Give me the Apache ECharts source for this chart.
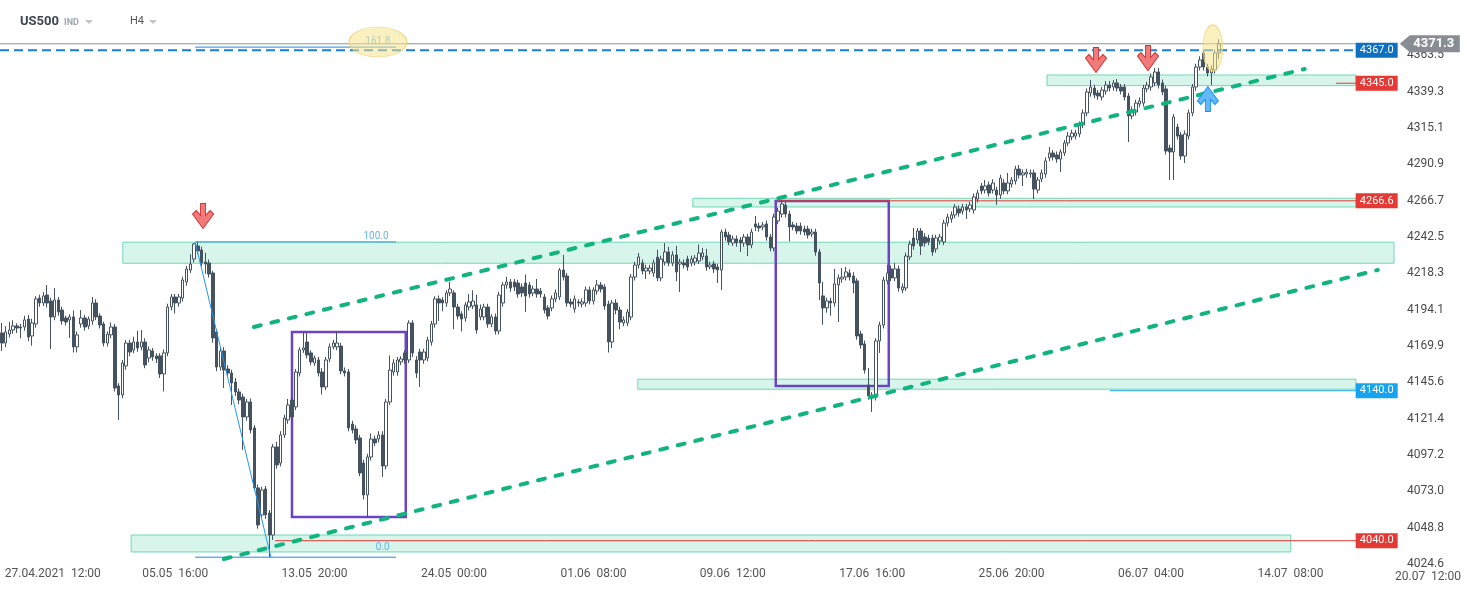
<!DOCTYPE html>
<html>
<head>
<meta charset="utf-8">
<script src="https://cdn.jsdelivr.net/npm/echarts@6/dist/echarts.min.js"></script>
<style>
  html, body { margin: 0; height: 100%; background: #fff; }
  #chart { width: 1467px; height: 590px; }
</style>
</head>
<body>
<div id="chart"></div>
<script>
// trading days and H4 bar hours (31.05 and 05.07 are short sessions)
const tradeDays = ['26.04','27.04','28.04','29.04','30.04','03.05','04.05','05.05','06.05','07.05',
  '10.05','11.05','12.05','13.05','14.05','17.05','18.05','19.05','20.05','21.05',
  '24.05','25.05','26.05','27.05','28.05','31.05','01.06','02.06','03.06','04.06',
  '07.06','08.06','09.06','10.06','11.06','14.06','15.06','16.06','17.06','18.06',
  '21.06','22.06','23.06','24.06','25.06','28.06','29.06','30.06','01.07','02.07',
  '05.07','06.07','07.07','08.07','09.07','12.07','13.07','14.07','15.07','16.07','19.07','20.07'];
const barHours = ['00:00','04:00','08:00','12:00','16:00','20:00'];
const shortDays = ['31.05','05.07'];
const xTicks = ['27.04  12:00','05.05  16:00','13.05  20:00','24.05  00:00','01.06  08:00',
  '09.06  12:00','17.06  16:00','25.06  20:00','06.07  04:00','14.07  08:00'];
const yTicks = [4024.6,4048.8,4073.0,4097.2,4121.4,4145.6,4169.9,4194.1,4218.3,4242.5,4266.7,4290.9,4315.1,4339.3,4363.5];

// [open, close, low, high]
const ohlc = [
[4178.5,4171.8,4166.5,4185.2],[4171.8,4179.2,4169.0,4183.0],[4177.8,4180.5,4175.5,4186.0],[4180.5,4183.2,4178.0,4187.0],
[4183.2,4181.8,4178.5,4185.0],[4182.5,4181.8,4175.0,4184.5],[4182.5,4187.2,4180.0,4190.0],[4187.8,4175.8,4173.0,4190.5],
[4176.5,4185.2,4170.0,4188.0],[4184.5,4201.2,4182.0,4203.0],[4201.8,4198.5,4196.0,4204.0],[4198.5,4203.2,4196.5,4205.8],
[4203.8,4198.5,4195.5,4210.5],[4199.8,4189.2,4167.8,4202.0],[4189.2,4200.5,4187.0,4208.5],[4200.5,4192.5,4190.0,4202.5],
[4193.8,4186.5,4184.0,4196.0],[4188.5,4185.8,4183.5,4190.0],[4187.2,4189.2,4175.2,4191.0],[4189.2,4169.2,4165.5,4193.5],
[4169.2,4177.2,4165.5,4179.5],[4184.5,4188.5,4182.0,4193.8],[4188.5,4182.5,4180.0,4190.5],[4183.2,4187.8,4181.0,4189.5],
[4186.5,4198.5,4184.0,4202.5],[4198.5,4189.2,4187.0,4201.0],[4189.8,4183.8,4181.5,4191.5],[4184.5,4171.8,4169.5,4186.0],
[4171.8,4177.8,4169.5,4179.5],[4177.2,4182.5,4175.0,4185.5],[4182.5,4141.8,4139.5,4184.5],[4143.2,4137.2,4120.5,4145.0],
[4137.2,4158.5,4135.0,4160.5],[4156.5,4171.8,4154.0,4173.8],[4171.8,4165.8,4163.0,4174.0],[4167.2,4172.5,4165.0,4176.0],
[4172.5,4168.5,4166.0,4180.0],[4169.2,4172.5,4167.0,4180.5],[4172.5,4157.2,4155.0,4175.0],[4161.8,4167.2,4159.0,4169.5],
[4166.5,4162.5,4160.0,4168.5],[4163.2,4161.2,4158.5,4165.0],[4163.2,4151.2,4148.5,4165.0],[4151.2,4165.2,4139.5,4167.5],
[4165.2,4195.8,4163.0,4198.0],[4195.8,4202.5,4193.5,4204.5],[4202.5,4198.5,4191.5,4204.5],[4198.5,4202.5,4196.0,4204.5],
[4201.8,4213.8,4199.5,4216.0],[4212.5,4221.2,4210.0,4223.2],[4220.5,4224.5,4218.5,4231.0],[4227.8,4237.8,4225.5,4238.5],
[4236.5,4233.2,4231.0,4239.5],[4233.8,4225.2,4223.0,4236.0],[4225.8,4224.5,4218.0,4232.0],[4225.2,4217.8,4215.5,4227.5],
[4218.5,4175.2,4172.0,4220.0],[4179.2,4155.8,4153.0,4181.0],[4155.8,4166.5,4153.5,4168.5],[4166.5,4153.8,4141.8,4169.0],
[4154.5,4151.8,4149.0,4157.0],[4151.8,4145.2,4130.5,4154.0],[4145.8,4139.2,4136.5,4148.5],[4139.2,4133.8,4131.0,4141.5],
[4135.8,4122.5,4100.5,4138.0],[4122.5,4132.5,4120.0,4134.5],[4132.5,4113.8,4111.5,4134.8],[4115.2,4075.2,4073.0,4117.0],
[4075.2,4050.5,4048.0,4077.5],[4057.2,4073.8,4055.0,4076.0],[4074.5,4057.2,4054.5,4076.5],[4058.5,4043.8,4029.2,4060.5],
[4043.8,4102.5,4040.5,4104.5],[4102.5,4090.5,4088.0,4106.0],[4091.8,4110.5,4089.5,4113.0],[4110.5,4121.8,4108.5,4124.0],
[4120.5,4130.5,4118.0,4134.5],[4133.8,4122.5,4120.0,4136.0],[4129.2,4152.5,4127.0,4154.5],[4151.8,4167.2,4149.5,4169.0],
[4167.2,4168.5,4165.2,4178.5],[4172.5,4163.8,4161.5,4178.5],[4165.2,4159.2,4157.0,4167.0],[4158.5,4161.8,4156.5,4163.5],
[4160.5,4151.8,4149.5,4162.5],[4152.5,4142.5,4137.5,4155.0],[4142.5,4160.5,4140.5,4162.5],[4161.2,4169.2,4159.0,4171.5],
[4169.2,4171.8,4167.5,4174.0],[4169.2,4171.8,4167.0,4179.2],[4169.8,4153.2,4151.0,4172.0],[4153.2,4151.8,4149.5,4155.5],
[4152.5,4115.2,4113.0,4154.5],[4117.8,4113.8,4111.5,4120.0],[4114.5,4107.2,4104.5,4117.0],[4108.5,4085.2,4083.0,4110.5],
[4091.8,4070.5,4067.5,4094.0],[4070.5,4095.8,4055.2,4098.0],[4095.8,4107.8,4093.5,4111.5],[4107.8,4105.2,4103.0,4110.0],
[4107.8,4110.5,4105.5,4113.0],[4110.5,4089.8,4082.5,4113.0],[4089.8,4132.5,4087.5,4134.5],[4132.5,4153.8,4130.5,4163.5],
[4152.5,4158.5,4150.0,4161.0],[4152.5,4160.5,4150.0,4162.5],[4159.2,4161.2,4157.0,4163.0],[4165.2,4160.5,4158.0,4167.0],
[4160.5,4185.2,4158.5,4187.0],[4185.2,4165.2,4162.5,4187.0],[4160.5,4151.8,4148.5,4163.0],[4165.8,4160.5,4142.5,4168.0],
[4160.5,4165.8,4158.0,4168.0],[4161.8,4173.8,4159.5,4176.0],[4172.5,4184.5,4170.0,4186.5],[4184.5,4201.2,4182.0,4203.0],
[4201.2,4198.5,4186.5,4203.5],[4200.5,4198.5,4193.0,4202.5],[4198.5,4205.2,4196.0,4207.0],[4205.2,4207.8,4203.0,4212.5],
[4205.2,4195.8,4181.0,4207.0],[4195.8,4189.8,4187.5,4198.0],[4191.2,4187.8,4179.5,4193.0],[4188.5,4197.2,4186.0,4199.0],
[4195.8,4199.2,4193.5,4204.5],[4196.5,4199.8,4194.5,4207.0],[4197.2,4180.5,4178.0,4204.0],[4189.2,4194.5,4187.0,4197.5],
[4189.2,4195.8,4187.0,4198.0],[4195.8,4184.5,4182.0,4198.0],[4184.5,4189.2,4182.5,4191.0],[4189.2,4179.8,4177.5,4191.5],
[4179.8,4203.8,4177.5,4206.0],[4198.5,4210.5,4196.0,4212.5],[4210.5,4212.5,4208.0,4216.0],[4212.5,4208.5,4206.0,4214.5],
[4212.5,4209.2,4206.5,4214.5],[4211.8,4204.5,4202.0,4214.0],[4209.2,4205.2,4202.5,4211.5],[4211.8,4203.2,4192.5,4217.5],
[4210.5,4204.5,4202.0,4212.5],[4205.2,4207.8,4203.0,4210.0],[4207.8,4204.5,4202.0,4214.5],[4206.5,4204.5,4202.0,4208.5],
[4202.5,4193.8,4191.5,4204.5],[4195.2,4189.8,4187.5,4197.0],[4195.2,4201.2,4193.0,4203.5],[4201.2,4205.2,4199.0,4207.5],
[4202.5,4220.5,4200.5,4221.8],[4220.5,4215.8,4213.5,4230.5],[4216.5,4198.5,4196.0,4218.5],[4199.2,4197.8,4195.5,4201.5],
[4194.5,4201.2,4192.0,4203.5],[4199.2,4198.5,4196.0,4201.0],[4197.8,4199.2,4195.5,4201.5],[4198.5,4207.2,4196.0,4209.5],
[4207.2,4199.8,4197.5,4209.5],[4199.8,4207.2,4197.5,4209.0],[4206.5,4210.5,4204.0,4213.8],[4210.5,4207.8,4205.5,4212.5],
[4209.2,4196.5,4194.0,4211.0],[4197.8,4172.5,4165.5,4200.0],[4172.5,4198.5,4168.5,4200.5],[4198.5,4193.8,4191.0,4201.0],
[4193.8,4185.8,4181.0,4196.0],[4185.2,4187.2,4183.0,4189.5],[4185.2,4192.5,4183.0,4194.5],[4189.2,4215.8,4187.0,4217.8],
[4215.8,4223.8,4213.5,4226.0],[4223.8,4229.2,4221.5,4231.8],[4225.2,4219.8,4217.5,4227.5],[4219.8,4221.8,4214.5,4224.0],
[4219.8,4221.8,4217.5,4224.0],[4218.5,4225.2,4216.0,4227.5],[4229.0,4215.2,4213.0,4234.0],[4215.2,4227.8,4213.0,4230.0],
[4225.8,4232.5,4223.5,4238.5],[4232.5,4225.2,4223.0,4236.0],[4225.2,4230.5,4223.0,4233.0],[4230.5,4219.2,4213.0,4236.5],
[4224.5,4225.8,4205.8,4228.0],[4225.2,4223.8,4221.5,4227.5],[4227.8,4222.5,4220.0,4230.0],[4225.2,4227.8,4223.0,4230.0],
[4225.8,4228.5,4223.5,4230.5],[4226.5,4231.8,4224.5,4237.5],[4229.2,4231.8,4227.0,4235.2],[4229.8,4222.5,4220.0,4234.5],
[4222.5,4223.8,4221.0,4226.0],[4224.5,4221.2,4218.5,4226.5],[4222.5,4220.5,4211.8,4224.5],[4220.5,4245.8,4207.2,4247.5],
[4245.8,4242.5,4240.0,4248.0],[4243.8,4239.2,4237.0,4246.0],[4238.5,4241.2,4236.5,4243.5],[4241.2,4238.5,4236.0,4243.5],
[4240.5,4238.5,4232.5,4242.5],[4238.5,4242.5,4236.0,4244.5],[4242.5,4237.2,4229.8,4244.5],[4237.2,4245.8,4235.0,4248.0],
[4251.2,4249.2,4246.5,4256.5],[4249.8,4248.5,4246.0,4252.0],[4249.2,4250.5,4247.0,4252.5],[4251.2,4242.5,4240.0,4253.5],
[4242.5,4235.2,4233.0,4244.5],[4235.2,4255.8,4233.0,4258.0],[4253.2,4259.8,4251.0,4262.0],[4257.8,4264.5,4255.5,4267.2],
[4263.8,4257.8,4255.5,4266.0],[4257.8,4249.2,4239.5,4260.0],[4250.5,4249.2,4247.0,4252.5],[4249.8,4246.5,4244.5,4252.0],
[4249.8,4246.5,4244.0,4252.0],[4247.8,4245.8,4243.5,4250.0],[4247.8,4243.8,4241.5,4250.0],[4244.5,4245.8,4242.5,4248.0],
[4245.8,4232.5,4230.0,4248.0],[4232.5,4211.8,4200.5,4234.5],[4203.2,4195.2,4184.0,4212.5],[4195.2,4199.8,4192.0,4202.0],
[4199.8,4198.5,4190.0,4202.0],[4198.5,4211.2,4196.0,4221.2],[4210.5,4215.2,4185.8,4217.5],[4214.5,4215.8,4212.0,4221.8],
[4215.8,4219.2,4213.5,4222.5],[4218.5,4215.8,4213.5,4221.0],[4216.5,4211.8,4205.0,4219.0],[4213.2,4176.5,4174.0,4215.0],
[4177.8,4170.5,4168.0,4180.0],[4171.2,4153.8,4151.5,4173.5],[4143.8,4136.5,4134.0,4155.2],[4136.5,4135.2,4125.8,4139.0],
[4135.8,4173.2,4133.5,4175.0],[4173.2,4183.8,4165.2,4186.0],[4183.8,4213.8,4181.5,4216.0],[4213.2,4218.5,4211.0,4224.0],
[4221.2,4215.2,4213.0,4223.5],[4215.2,4221.2,4213.0,4225.2],[4221.2,4208.5,4206.0,4223.5],[4207.2,4209.2,4205.0,4211.5],
[4208.5,4229.8,4206.5,4232.0],[4229.2,4237.8,4227.0,4240.0],[4241.8,4236.5,4234.0,4248.5],[4240.5,4246.5,4238.0,4248.5],
[4246.5,4236.5,4230.5,4248.5],[4242.5,4238.5,4236.0,4245.0],[4241.8,4239.2,4237.0,4244.0],[4241.8,4232.5,4230.0,4244.0],
[4234.5,4241.8,4232.0,4244.0],[4239.8,4242.5,4237.5,4244.5],[4239.2,4251.8,4237.0,4254.0],[4251.8,4255.8,4249.5,4258.0],
[4254.5,4257.2,4252.0,4259.5],[4257.2,4262.5,4255.0,4264.5],[4261.2,4258.5,4256.0,4263.5],[4259.8,4262.5,4257.5,4264.5],
[4262.5,4260.5,4254.5,4264.5],[4261.2,4263.8,4259.0,4266.0],[4260.5,4269.2,4258.0,4271.5],[4267.8,4271.8,4265.5,4274.0],
[4276.5,4273.2,4271.0,4278.5],[4273.8,4276.5,4271.5,4280.5],[4277.2,4271.8,4269.5,4279.5],[4273.8,4278.5,4271.5,4281.0],
[4273.8,4270.5,4263.8,4276.0],[4270.5,4281.8,4268.0,4284.0],[4278.5,4273.2,4271.0,4281.0],[4273.2,4278.5,4271.0,4285.2],
[4277.8,4280.5,4275.5,4282.5],[4279.8,4287.8,4277.5,4290.0],[4287.8,4283.8,4281.5,4290.5],[4283.8,4285.2,4276.5,4287.5],
[4284.5,4285.8,4282.0,4288.0],[4284.5,4285.2,4282.0,4287.5],[4285.2,4274.5,4267.8,4287.5],[4273.8,4280.5,4271.5,4282.5],
[4281.2,4285.2,4279.0,4287.5],[4284.5,4293.2,4282.0,4295.5],[4295.2,4298.5,4293.0,4302.5],[4298.5,4295.8,4293.5,4300.5],
[4297.2,4294.5,4292.0,4299.5],[4294.5,4299.2,4285.8,4301.0],[4298.5,4305.2,4296.5,4307.2],[4305.2,4309.8,4303.0,4312.5],
[4309.2,4311.8,4307.0,4314.0],[4309.8,4311.8,4307.5,4314.0],[4311.2,4317.2,4309.0,4319.5],[4317.2,4325.2,4315.0,4327.5],
[4325.2,4339.2,4323.0,4341.5],[4338.5,4342.5,4336.0,4347.2],[4341.8,4337.2,4335.0,4344.0],[4338.5,4336.5,4334.0,4340.5],
[4335.8,4340.5,4333.5,4342.5],[4339.8,4343.8,4337.5,4346.5],[4343.8,4341.8,4339.5,4346.5],[4342.5,4345.2,4340.0,4347.2],
[4345.2,4341.8,4339.5,4347.8],[4342.5,4339.8,4337.5,4344.5],[4342.5,4335.8,4333.5,4344.5],[4336.5,4323.2,4305.8,4338.5],
[4323.2,4327.2,4321.0,4329.5],[4325.8,4331.8,4323.5,4334.0],[4331.2,4333.2,4329.0,4335.5],[4331.8,4341.8,4329.5,4344.0],
[4341.2,4343.8,4339.0,4346.0],[4342.5,4349.2,4340.0,4351.5],[4345.2,4352.5,4343.0,4355.2],[4352.5,4343.8,4341.5,4355.2],
[4345.2,4339.2,4337.0,4347.5],[4341.2,4299.8,4297.5,4343.5],[4301.8,4299.2,4280.5,4304.0],[4299.2,4322.5,4280.5,4324.5],
[4315.8,4309.8,4307.5,4318.0],[4310.5,4296.5,4294.0,4312.5],[4296.5,4311.2,4291.8,4313.5],[4309.8,4325.2,4307.5,4327.5],
[4325.2,4342.5,4323.0,4344.5],[4342.5,4355.8,4340.0,4358.0],[4355.8,4360.5,4353.5,4363.0],[4365.2,4355.8,4353.5,4367.2],
[4355.8,4351.8,4349.5,4358.0],[4351.8,4354.5,4343.8,4357.0],[4353.8,4365.2,4351.5,4367.5],[4365.2,4371.3,4361.0,4374.5]
];

// drawing tools, x in bar index units, y in price
const lastPrice = 4371.3;
const zoneBands = [[32.1, 369.5, 4225.0, 4239.0], [277.4, 359.4, 4343.4, 4350.5], [183.4, 359.4, 4262.5, 4268.3],
  [168.8, 359.4, 4141.0, 4147.7], [34.3, 342.1, 4032.5, 4043.8]];
const boxes = [[77.0, 107.2, 4055.8, 4179.2], [205.4, 235.4, 4143.2, 4266.5]];
const trendUpper = [[66.9, 4182.5], [345.8, 4354.5]];
const trendLower = [[58.9, 4027.8], [365.2, 4220.5]];
const fibLevels = [4369.1, 4239.2, 4029.0];
const fibSpan = [51.3, 104.6];
const fibSwing = [[51.3, 4239.2], [71.4, 4029.0]];
const fibTexts = [['161.8', 99.8, 4373.0], ['100.0', 99.3, 4242.5], ['0.0', 101.1, 4035.2]];
const levelStarts = [[-0.5, 4367.0], [354.1, 4345.0], [205.7, 4266.6], [294.1, 4140.0], [72.5, 4040.0]];
const levelEnd = 359.4;
const tagPrices = [4367.0, 4345.0, 4266.6, 4140.0, 4040.0];
const downArrows = [[53.4, 4256.5], [290.4, 4360.5], [304.2, 4361.8]];
const upArrows = [[320.1, 4334.5]];
const highlights = [[99.8, 4372.5], [321.4, 4368.5]];

const categories = [];
tradeDays.forEach(d => {
  const hrs = shortDays.includes(d) ? barHours.slice(0, 5) : barHours;
  hrs.forEach(h => categories.push(d + '  ' + h));
});
const tickSet = new Set(xTicks);
const lastIdx = categories.length - 1;

const chart = echarts.init(document.getElementById('chart'), null, { renderer: 'canvas' });

const levelColors = ['#1a7fd8', '#e53935', '#e53935', '#1ea5ee', '#e53935'];
const tagColors = ['#0f6fc0', '#e53935', '#e53935', '#16a3ef', '#e53935'];
const arrowDown = 'path://M7.5,0 L12.5,0 L12.5,12 L17,7 L20.5,10.5 L10,25 L-0.5,10.5 L3,7 L7.5,12 Z';
const arrowUp = 'path://M7.5,25 L12.5,25 L12.5,13 L17,18 L20.5,14.5 L10,0 L-0.5,14.5 L3,18 L7.5,13 Z';

const series = [
  {
    type: 'candlestick',
    data: ohlc,
    barWidth: 3,
    z: 3,
    itemStyle: {
      color: '#ffffff', color0: '#44535f',
      borderColor: '#44535f', borderColor0: '#44535f', borderWidth: 1
    }
  },
  {
    type: 'line', xAxisIndex: 1, data: [], z: 1,
    markArea: {
      silent: true,
      itemStyle: { color: '#d8f5eb', borderColor: '#6fd8b4', borderWidth: 1 },
      data: zoneBands.map(b => [{ coord: [b[0], b[3]] }, { coord: [b[1], b[2]] }])
    }
  },
  {
    type: 'line', xAxisIndex: 1, data: [], z: 6,
    markArea: {
      silent: true,
      itemStyle: { color: 'rgba(0,0,0,0)', borderColor: '#6b44c3', borderWidth: 2.5 },
      data: boxes.map(b => [{ coord: [b[0], b[3]] }, { coord: [b[1], b[2]] }])
    }
  },
  {
    type: 'line', xAxisIndex: 1, z: 2, symbol: 'none', silent: true,
    data: [[-0.5, lastPrice], [lastIdx + 0.5, lastPrice]],
    lineStyle: { color: '#8f9498', width: 1 }
  }
];

levelStarts.forEach((l, i) => {
  series.push({
    type: 'line', xAxisIndex: 1, z: i === 0 ? 4 : 2, symbol: 'none', silent: true,
    data: [[l[0], l[1]], [levelEnd, l[1]]],
    lineStyle: { color: levelColors[i], width: i === 0 ? 2 : 1, type: i === 0 ? [9, 5] : 'solid' }
  });
});

fibLevels.forEach((p, i) => {
  series.push({
    type: 'line', xAxisIndex: 1, z: 4, symbol: 'none', silent: true,
    data: [[fibSpan[0], p], [fibSpan[1], p]],
    lineStyle: { color: i === 1 ? '#3b8fd6' : '#1e88e5', width: 1 }
  });
});

series.push({
  type: 'line', xAxisIndex: 1, z: 4, symbol: 'none', silent: true,
  data: fibSwing, lineStyle: { color: '#2196f3', width: 1 }
});

series.push({
  type: 'scatter', xAxisIndex: 1, z: 4, silent: true, clip: false,
  data: fibTexts.map(t => ({ value: [t[1], t[2]], name: t[0] })),
  symbolSize: 1, itemStyle: { color: 'rgba(0,0,0,0)' },
  label: { show: true, position: 'inside', formatter: '{b}', color: '#3fa3ea', fontSize: 10, fontFamily: 'Roboto' }
});

[trendUpper, trendLower].forEach(t => {
  series.push({
    type: 'line', xAxisIndex: 1, z: 5, symbol: 'none', silent: true,
    data: t, lineStyle: { color: '#10b47c', width: 4, type: [7, 11], cap: 'round' }
  });
});

series.push({
  type: 'scatter', xAxisIndex: 1, z: 7, silent: true, clip: false,
  data: highlights, symbol: 'circle',
  symbolSize: (v, p) => p.dataIndex === 0 ? [58, 30] : [20, 46],
  itemStyle: { color: 'rgba(246,228,140,0.55)', borderColor: 'rgba(236,210,110,0.8)', borderWidth: 1, opacity: 1 }
});

series.push({
  type: 'scatter', xAxisIndex: 1, z: 8, silent: true, clip: false,
  data: downArrows, symbol: arrowDown, symbolSize: [21, 25],
  itemStyle: { color: '#f07b7b', borderColor: '#d32f2f', borderWidth: 1, opacity: 1 }
});
series.push({
  type: 'scatter', xAxisIndex: 1, z: 8, silent: true, clip: false,
  data: upArrows, symbol: arrowUp, symbolSize: [21, 25],
  itemStyle: { color: '#63b8f5', borderColor: '#1c8ff0', borderWidth: 1, opacity: 1 }
});

series.push({
  type: 'scatter', xAxisIndex: 1, z: 9, silent: true, clip: false,
  data: tagPrices.map((p, i) => ({ value: [364.9, p], itemStyle: { color: tagColors[i], opacity: 1 } })),
  symbol: 'rect', symbolSize: [42, 15],
  label: {
    show: true, position: 'inside', color: '#fff', fontSize: 11, fontFamily: 'Roboto',
    formatter: p => p.value[1].toFixed(1)
  }
});
series.push({
  type: 'scatter', xAxisIndex: 1, z: 9, silent: true, clip: false,
  data: [[379.0, lastPrice]],
  symbol: 'path://M0,8.5 L10,0 L60,0 L60,17 L10,17 Z', symbolSize: [60, 17],
  itemStyle: { color: '#878d92', opacity: 1 },
  label: {
    show: true, position: 'inside', offset: [4, 0], color: '#fff', fontSize: 13,
    fontWeight: 'bold', fontFamily: 'Roboto', formatter: lastPrice.toFixed(1)
  }
});

const option = {
  animation: false,
  backgroundColor: '#ffffff',
  grid: { left: 0, right: 73, top: 30, bottom: 25 },
  xAxis: [
    {
      type: 'category', data: categories, boundaryGap: true,
      axisLine: { show: false }, axisTick: { show: false }, splitLine: { show: false },
      axisLabel: {
        interval: (i, v) => tickSet.has(v),
        color: '#555', fontSize: 12, fontFamily: 'Roboto', margin: 3,
        formatter: v => v === xTicks[0] ? '{first|27.04.2021  12:00}' : v,
        rich: { first: { color: '#555', fontSize: 12, fontFamily: 'Roboto', padding: [0, 0, 0, 34] } }
      }
    },
    { type: 'value', show: false, min: -0.5, max: lastIdx + 0.5 }
  ],
  yAxis: {
    type: 'value', position: 'right', min: 4023.8, max: 4380.5, scale: true,
    axisLine: { show: false }, axisTick: { show: false }, splitLine: { show: false },
    axisLabel: {
      customValues: yTicks, color: '#4a4a4a', fontSize: 12, fontFamily: 'Roboto', margin: 13,
      formatter: v => v.toFixed(1)
    }
  },
  graphic: [
    { type: 'text', left: 20, top: 15, style: { text: 'US500', font: 'bold 13px Roboto', fill: '#3c4650' } },
    { type: 'text', left: 64, top: 18, style: { text: 'IND', font: 'bold 9px Roboto', fill: '#a0a6ab' } },
    { type: 'polygon', shape: { points: [[85, 20], [93, 20], [89, 24]] }, style: { fill: '#c3c7cb' } },
    { type: 'text', left: 130, top: 16, style: { text: 'H4', font: '11px Roboto', fill: '#555' } },
    { type: 'polygon', shape: { points: [[149, 20], [157, 20], [153, 24]] }, style: { fill: '#c3c7cb' } },
    { type: 'text', left: 1395, top: 571, style: { text: '20.07  12:00', font: '12px Roboto', fill: '#555' } }
  ],
  series: series
};

chart.setOption(option);
window.addEventListener('resize', chart.resize);
</script>
</body>
</html>
